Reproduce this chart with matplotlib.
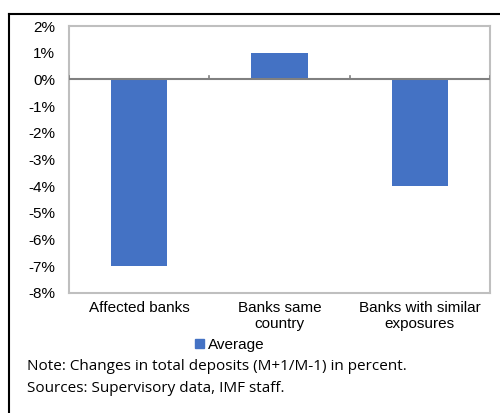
import matplotlib
matplotlib.use("Agg")
import matplotlib.pyplot as plt
from matplotlib.lines import Line2D
from matplotlib.patches import Patch

# data
categories = ["Affected banks", "Banks same\ncountry", "Banks with similar\nexposures"]
average = [-7.0, 1.0, -4.0]
yticks = [2, 1, 0, -1, -2, -3, -4, -5, -6, -7, -8]

bar_color = "#4472C4"
frame_gray = "#BFBFBF"
zero_gray = "#808080"

fig = plt.figure(figsize=(5.0, 4.13), dpi=100)
W, H = 500, 413
ax = fig.add_axes([69 / W, 1 - 293 / H, (490 - 69) / W, (293 - 26) / H])

x = list(range(len(categories)))
ax.bar(x, average, width=0.4, color=bar_color, zorder=3)

ax.set_xlim(-0.5, len(categories) - 0.5)
ax.set_ylim(-8, 2)
ax.set_yticks(yticks)
ax.set_yticklabels([f"{t}%" for t in yticks], fontfamily="Liberation Sans", fontsize=11)
ax.tick_params(axis="y", length=0, pad=10)
ax.set_xticks([])

for s in ax.spines.values():
    s.set_color(frame_gray)
    s.set_linewidth(1.5)

# zero line with category separator ticks
ax.axhline(0, color=zero_gray, lw=1.5, zorder=4)
for b in [-0.5, 0.5, 1.5, 2.5]:
    ax.plot([b, b], [0, 0.12], color=zero_gray, lw=1.2, zorder=4)

# category labels
for i, c in enumerate(categories):
    ax.text(i, -8.3, c, ha="center", va="top", fontfamily="Liberation Sans",
            fontsize=11, linespacing=1.15)

# legend
fig.legend(handles=[Patch(color=bar_color, label="Average")], loc="center",
           bbox_to_anchor=(230 / W, 1 - 345 / H), frameon=False,
           prop={"family": "Liberation Sans", "size": 11},
           handlelength=0.6, handleheight=0.6, handletextpad=0.25,
           borderpad=0, borderaxespad=0)

# notes
fig.text(27 / W, 1 - 366 / H, "Note: Changes in total deposits (M+1/M-1) in percent.",
         ha="left", va="center", fontfamily="Open Sans", fontsize=11)
fig.text(27 / W, 1 - 388 / H, "Sources: Supervisory data, IMF staff.",
         ha="left", va="center", fontfamily="Open Sans", fontsize=11)

# outer frame (top and left only)
fig.add_artist(Line2D([9 / W, 1], [1 - 14 / H, 1 - 14 / H], color="black", lw=1.5,
                      transform=fig.transFigure))
fig.add_artist(Line2D([9 / W, 9 / W], [0, 1 - 14 / H], color="black", lw=1.5,
                      transform=fig.transFigure))

fig.savefig("out.png", dpi=100)
